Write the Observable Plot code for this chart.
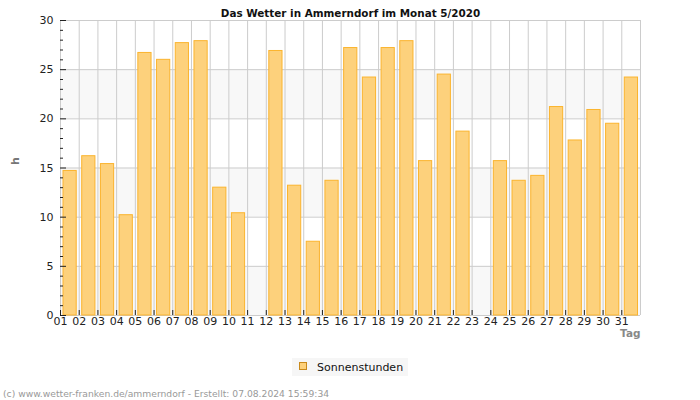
<!DOCTYPE html>
<html>
<head>
<meta charset="utf-8">
<script src="https://cdn.jsdelivr.net/npm/d3@7"></script>
<script src="https://cdn.jsdelivr.net/npm/@observablehq/plot@0.6"></script>
<style>
  html, body { margin: 0; padding: 0; background: #fff; }
  #chart { position: relative; width: 700px; height: 400px; }
</style>
</head>
<body>
<div id="chart"></div>
<script>
const days = d3.range(1, 32);
const sunHours = [14.7, 16.2, 15.4, 10.2, 26.7, 26.0, 27.7, 27.9, 13.0, 10.4,
                  0, 26.9, 13.2, 7.5, 13.7, 27.2, 24.2, 27.2, 27.9, 15.7,
                  24.5, 18.7, 0, 15.7, 13.7, 14.2, 21.2, 17.8, 20.9, 19.5, 24.2];
const yMajor = [0, 5, 10, 15, 20, 25, 30];
const yMinor = d3.range(0, 31).filter(v => v % 5 !== 0);
const bands = [[0, 5], [10, 15], [20, 25]];
const dayBounds = d3.range(1, 33);
const title = "Das Wetter in Ammerndorf im Monat 5/2020";
const seriesName = "Sonnenstunden";
const footer = "(c) www.wetter-franken.de/ammerndorf - Erstellt: 07.08.2024 15:59:34";

const data = days.map((d, i) => ({day: d, value: sunHours[i]})).filter(d => d.value > 0);
const fillC = "#fdd17c";
const strokeC = "#fbb42e";

const chart = Plot.plot({
  width: 700,
  height: 400,
  marginLeft: 60,
  marginRight: 60,
  marginTop: 20,
  marginBottom: 85,
  style: {fontFamily: "DejaVu Sans", fontSize: "11px", background: "#fff", color: "#222"},
  x: {type: "linear", domain: [1, 32]},
  y: {domain: [0, 30]},
  marks: [
    Plot.rect(bands, {x1: 1, x2: 32, y1: d => d[0], y2: d => d[1], fill: "#f8f8f8"}),
    Plot.ruleY(yMajor, {stroke: "#cccccc"}),
    Plot.ruleX(dayBounds, {stroke: "#cccccc"}),
    Plot.rectY(data, {x1: "day", x2: d => d.day + 1, y: "value", insetLeft: 3, insetRight: 2.5,
      fill: fillC, stroke: strokeC, strokeWidth: 1}),
    Plot.axisY(yMajor, {anchor: "left", tickSize: -6, tickPadding: 13, label: null, fill: "#222"}),
    Plot.axisY(yMinor, {anchor: "left", tickSize: -3, tickFormat: () => "", label: null}),
    Plot.axisX(days, {anchor: "bottom", tickSize: -5, tickFormat: () => "", label: null}),
    Plot.axisX(days, {anchor: "bottom", tickSize: 0, tickPadding: 2, tickFormat: d => String(d).padStart(2, "0"), label: null, fill: "#222"}),
    Plot.text([title], {frameAnchor: "top", dy: -11, fontWeight: "bold", fontSize: 10.4, fill: "#111"}),
    Plot.text(["h"], {frameAnchor: "left", dx: -45, dy: -3, rotate: -90, fontWeight: "bold", fontSize: 11, fill: "#777"}),
    Plot.text(["Tag"], {frameAnchor: "bottom-right", dy: 21, textAnchor: "end", fontWeight: "bold", fontSize: 10.5, fill: "#888"})
  ]
});

const svg = d3.select(chart);
const lg = svg.append("g").attr("text-anchor", "start");
lg.append("rect").attr("x", 292).attr("y", 358).attr("width", 116).attr("height", 18).attr("fill", "#f6f6f6");
lg.append("rect").attr("x", 299.5).attr("y", 362.5).attr("width", 7).attr("height", 7)
  .attr("fill", fillC).attr("stroke", "#c98a1c");
lg.append("text").attr("x", 317).attr("y", 370.5).attr("font-size", 11).attr("fill", "#111")
  .attr("text-anchor", "start").text(seriesName);
svg.append("text").attr("x", 3).attr("y", 397).attr("font-size", 9.2).attr("fill", "#999")
  .attr("text-anchor", "start").attr("font-family", "DejaVu Sans").text(footer);

document.getElementById("chart").append(chart);
</script>
</body>
</html>
